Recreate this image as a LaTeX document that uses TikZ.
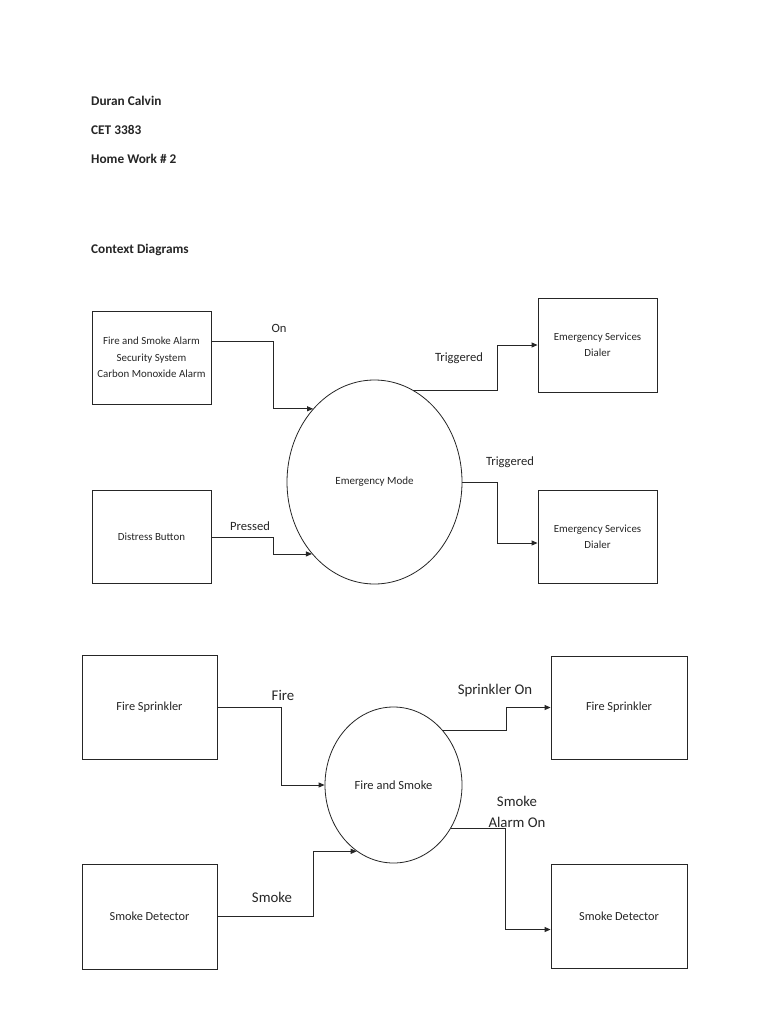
\documentclass[tikz,border=0pt]{standalone}
\usepackage{fontspec}
\setmainfont{Carlito}
\usetikzlibrary{shapes.geometric,arrows.meta,calc}
\definecolor{ink}{gray}{0.15}
\begin{document}
\begin{tikzpicture}[x=1pt,y=-1pt,
  hdr/.style={anchor=base west,font=\bfseries\fontsize{13.3}{15}\selectfont,text=ink,inner sep=0},
  boxa/.style={draw=ink,line width=0.9pt,minimum width=119pt,minimum height=93pt,inner sep=0,align=center,font=\fontsize{10.9}{16.5}\selectfont,text=ink},
  boxb/.style={draw=ink,line width=0.9pt,minimum width=135pt,minimum height=104pt,inner sep=0,align=center,font=\fontsize{12.3}{14}\selectfont,text=ink},
  proc/.style={draw=ink,line width=0.8pt,ellipse,inner sep=0,align=center,text=ink},
  flow/.style={draw=ink,line width=0.9pt,-{Triangle[length=6pt,width=5pt]}},
  lbla/.style={inner sep=0,font=\fontsize{12.6}{14}\selectfont,text=ink},
  lblb/.style={inner sep=0,align=center,font=\fontsize{14.8}{21}\selectfont,text=ink}]
\useasboundingbox[fill=white] (0,0) rectangle (768,1024);

% header
\node[hdr] (h1) at (91,106) {Duran Calvin};
\node[hdr] (h2) at (91,135) {CET 3383};
\node[hdr] (h3) at (91,164) {Home Work \# 2};
\node[hdr] (h4) at (91,253) {Context Diagrams};

% diagram 1
\node[boxa] (b1) at (151.5,357.5) {Fire and Smoke Alarm\\Security System\\Carbon Monoxide Alarm};
\node[boxa] (db) at (151.5,537) {Distress Button};
\node[boxa,minimum height=94pt,font=\fontsize{10.9}{15.5}\selectfont] (d1) at (597.5,345) {Emergency Services\\Dialer};
\node[boxa,font=\fontsize{10.9}{15.5}\selectfont] (d2) at (597.5,537) {Emergency Services\\Dialer};
\node[proc,minimum width=175pt,minimum height=204pt,font=\fontsize{11}{13}\selectfont] (em) at (374.5,482) {Emergency Mode};

\draw[flow] ([yshift=16.5pt]b1.east) -- ++(62,0) |- (em.130);
\draw[flow] (db.east) -- ++(62,0) |- (em.229.5);
\draw[flow] (em.67) -| ([xshift=-40pt]d1.west) -- (d1.west);
\draw[flow] (em.east) -| ([xshift=-40pt,yshift=-6pt]d2.west) -- ([yshift=-6pt]d2.west);

\node[lbla] (l1) at (279,328) {On};
\node[lbla] (l2) at (459,358) {Triggered};
\node[lbla] (l3) at (510,462) {Triggered};
\node[lbla] (l4) at (250,526) {Pressed};

% diagram 2
\node[boxb] (fs1) at (149.5,707) {Fire Sprinkler};
\node[boxb,minimum width=136pt,minimum height=103pt] (fs2) at (619,707.5) {Fire Sprinkler};
\node[boxb,minimum height=105pt] (sd1) at (149.5,916.5) {Smoke Detector};
\node[boxb,minimum width=136pt] (sd2) at (619,916.5) {Smoke Detector};
\node[proc,minimum width=137pt,minimum height=156pt,font=\fontsize{12.5}{14}\selectfont] (fm) at (393.5,785) {Fire and Smoke};

\draw[flow] (fs1.east) -- ++(64,0) |- (fm.west);
\draw[flow] (sd1.east) -- ++(96,0) |- (fm.241.4);
\draw[flow] (fm.48.5) -| ([xshift=-44pt]fs2.west) -- (fs2.west);
\draw[flow] (fm.323.7) -| ([xshift=-45pt,yshift=-13pt]sd2.west) -- ([yshift=-13pt]sd2.west);

\node[lblb] (l5) at (283,695) {Fire};
\node[lblb] (l6) at (495,691) {Sprinkler On};
\node[lblb] (l7) at (517,812) {Smoke\\Alarm On};
\node[lblb] (l8) at (272,897) {Smoke};
\end{tikzpicture}
\end{document}
